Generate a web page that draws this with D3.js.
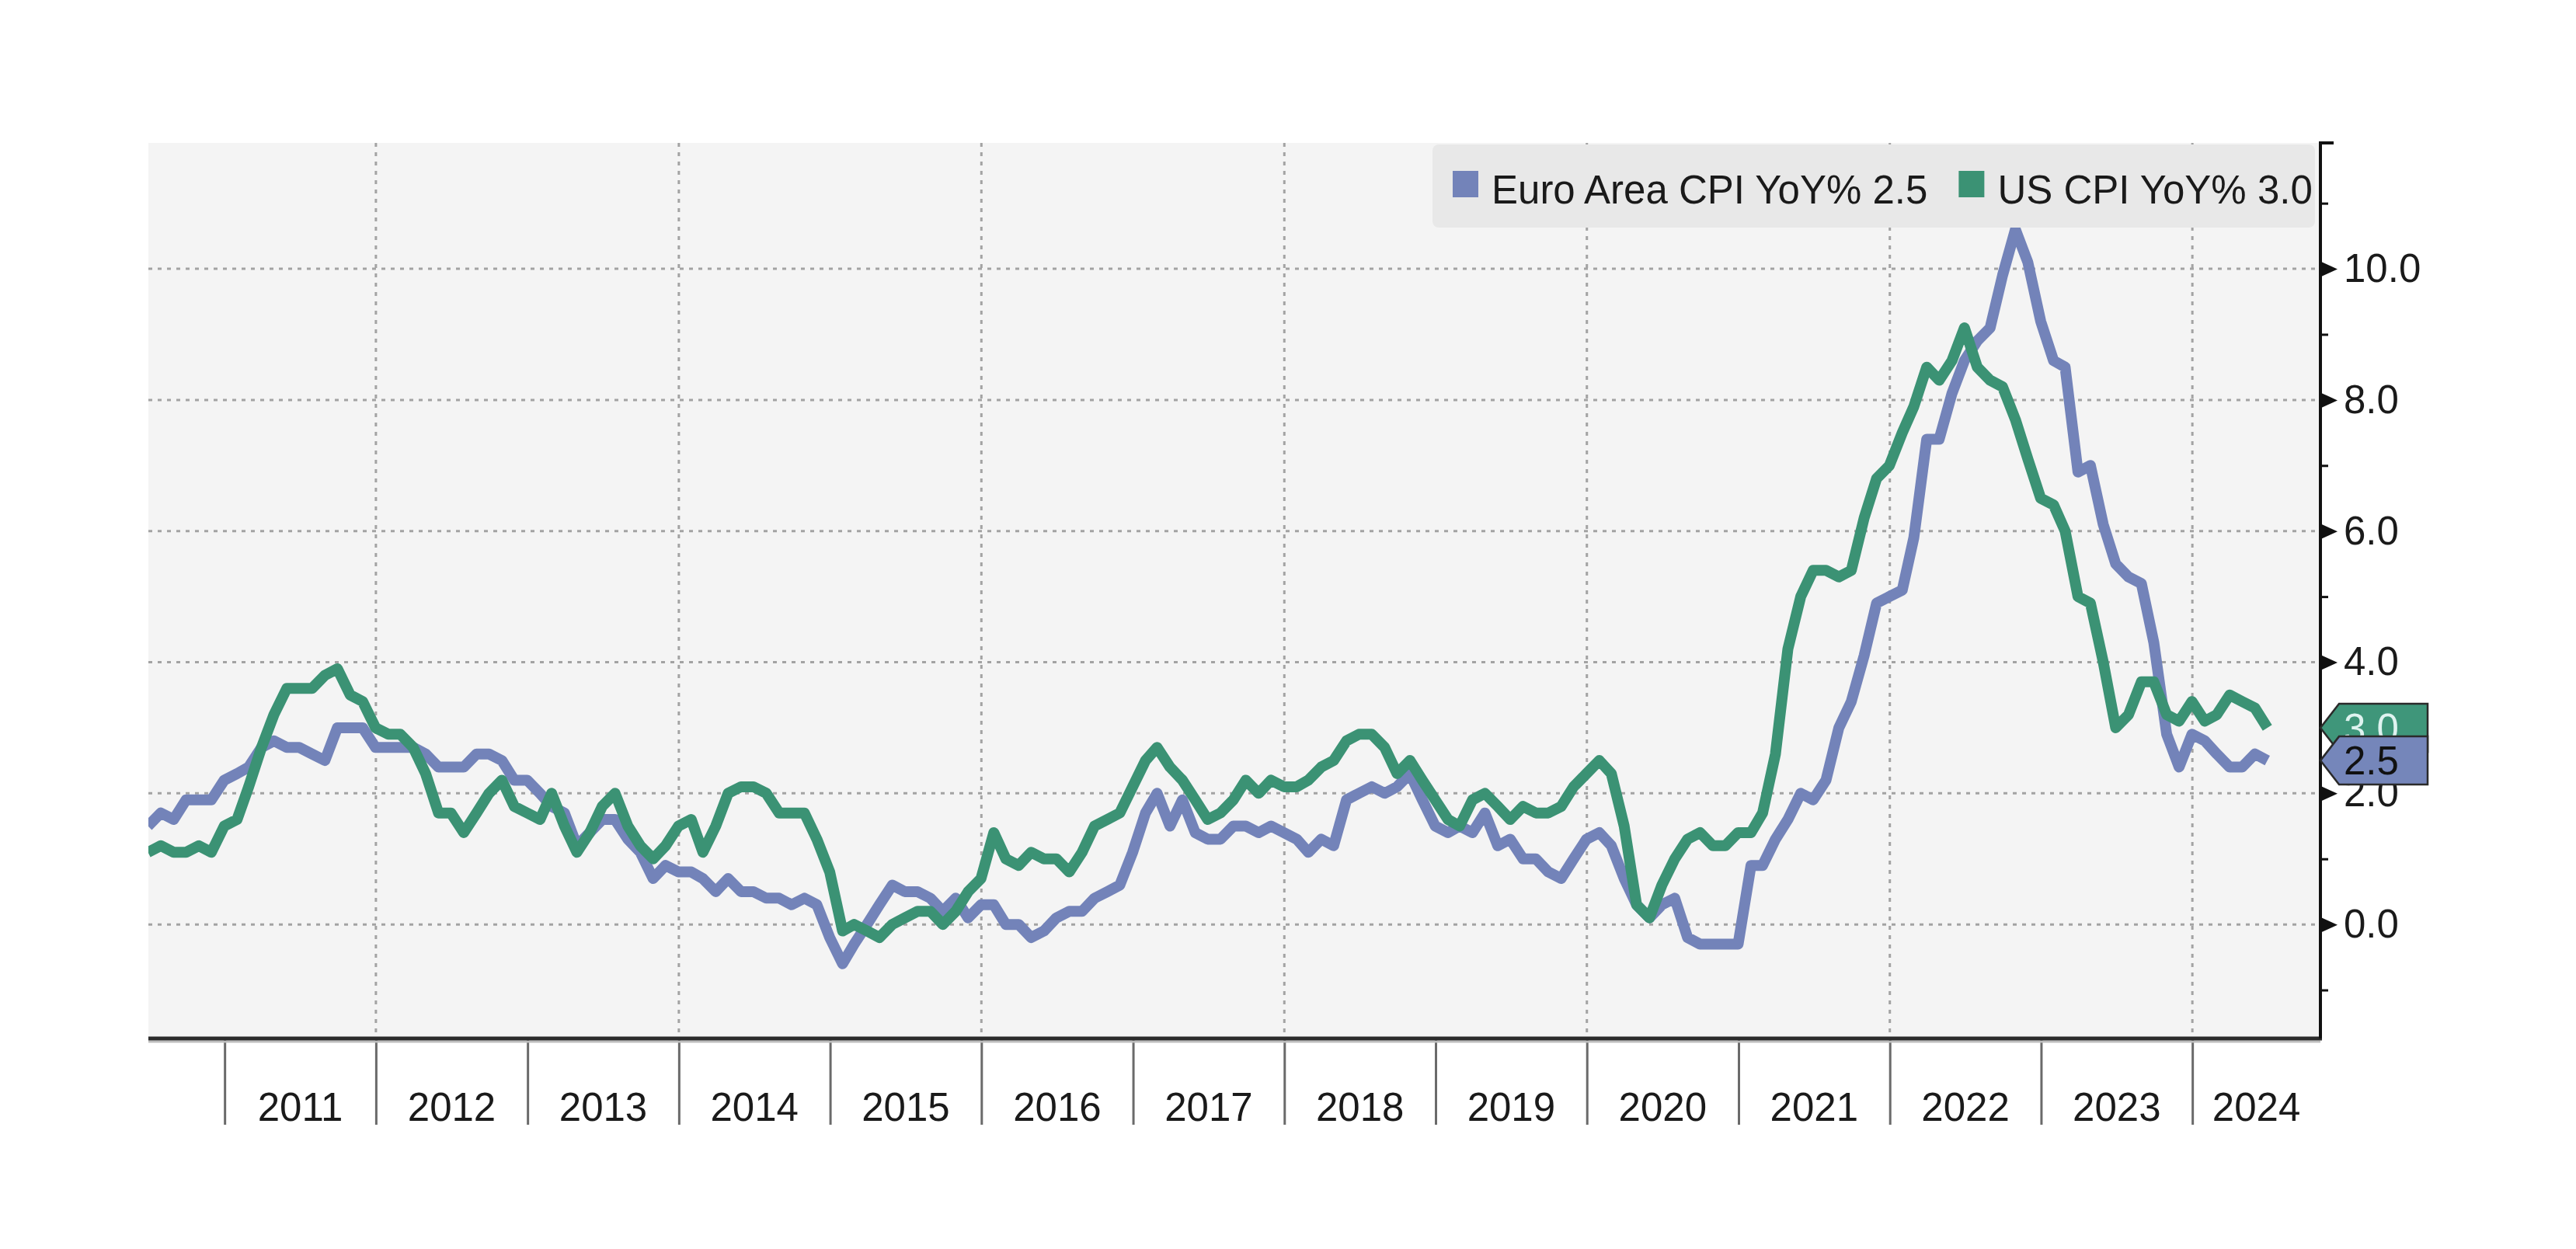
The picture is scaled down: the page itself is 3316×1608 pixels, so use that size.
<!DOCTYPE html>
<html>
<head>
<meta charset="utf-8">
<script src="https://cdn.jsdelivr.net/npm/d3@7"></script>
<style>
  body { margin: 0; background: #fff; }
  svg text { font-family: "Liberation Sans", Arial, sans-serif; }
</style>
</head>
<body>
<svg id="Chart"></svg>
<script>
// monthly YoY %, first value is June 2010, last is June 2024
let firstMonth = new Date(2010, 5, 1)
let euroCPI = [
  1.5, 1.7, 1.6, 1.9, 1.9, 1.9, 2.2,
  2.3, 2.4, 2.7, 2.8, 2.7, 2.7, 2.6, 2.5, 3.0, 3.0, 3.0, 2.7,
  2.7, 2.7, 2.7, 2.6, 2.4, 2.4, 2.4, 2.6, 2.6, 2.5, 2.2, 2.2,
  2.0, 1.8, 1.7, 1.2, 1.4, 1.6, 1.6, 1.3, 1.1, 0.7, 0.9, 0.8,
  0.8, 0.7, 0.5, 0.7, 0.5, 0.5, 0.4, 0.4, 0.3, 0.4, 0.3, -0.2,
  -0.6, -0.3, 0.0, 0.3, 0.6, 0.5, 0.5, 0.4, 0.2, 0.4, 0.1, 0.3,
  0.3, 0.0, 0.0, -0.2, -0.1, 0.1, 0.2, 0.2, 0.4, 0.5, 0.6, 1.1,
  1.7, 2.0, 1.5, 1.9, 1.4, 1.3, 1.3, 1.5, 1.5, 1.4, 1.5, 1.4,
  1.3, 1.1, 1.3, 1.2, 1.9, 2.0, 2.1, 2.0, 2.1, 2.3, 1.9, 1.5,
  1.4, 1.5, 1.4, 1.7, 1.2, 1.3, 1.0, 1.0, 0.8, 0.7, 1.0, 1.3,
  1.4, 1.2, 0.7, 0.3, 0.1, 0.3, 0.4, -0.2, -0.3, -0.3, -0.3, -0.3,
  0.9, 0.9, 1.3, 1.6, 2.0, 1.9, 2.2, 3.0, 3.4, 4.1, 4.9, 5.0,
  5.1, 5.9, 7.4, 7.4, 8.1, 8.6, 8.9, 9.1, 9.9, 10.6, 10.1, 9.2,
  8.6, 8.5, 6.9, 7.0, 6.1, 5.5, 5.3, 5.2, 4.3, 2.9, 2.4, 2.9,
  2.8, 2.6, 2.4, 2.4, 2.6, 2.5
]
let usCPI = [
  1.1, 1.2, 1.1, 1.1, 1.2, 1.1, 1.5,
  1.6, 2.1, 2.7, 3.2, 3.6, 3.6, 3.6, 3.8, 3.9, 3.5, 3.4, 3.0,
  2.9, 2.9, 2.7, 2.3, 1.7, 1.7, 1.4, 1.7, 2.0, 2.2, 1.8, 1.7,
  1.6, 2.0, 1.5, 1.1, 1.4, 1.8, 2.0, 1.5, 1.2, 1.0, 1.2, 1.5,
  1.6, 1.1, 1.5, 2.0, 2.1, 2.1, 2.0, 1.7, 1.7, 1.7, 1.3, 0.8,
  -0.1, 0.0, -0.1, -0.2, 0.0, 0.1, 0.2, 0.2, 0.0, 0.2, 0.5, 0.7,
  1.4, 1.0, 0.9, 1.1, 1.0, 1.0, 0.8, 1.1, 1.5, 1.6, 1.7, 2.1,
  2.5, 2.7, 2.4, 2.2, 1.9, 1.6, 1.7, 1.9, 2.2, 2.0, 2.2, 2.1,
  2.1, 2.2, 2.4, 2.5, 2.8, 2.9, 2.9, 2.7, 2.3, 2.5, 2.2, 1.9,
  1.6, 1.5, 1.9, 2.0, 1.8, 1.6, 1.8, 1.7, 1.7, 1.8, 2.1, 2.3,
  2.5, 2.3, 1.5, 0.3, 0.1, 0.6, 1.0, 1.3, 1.4, 1.2, 1.2, 1.4,
  1.4, 1.7, 2.6, 4.2, 5.0, 5.4, 5.4, 5.3, 5.4, 6.2, 6.8, 7.0,
  7.5, 7.9, 8.5, 8.3, 8.6, 9.1, 8.5, 8.3, 8.2, 7.7, 7.1, 6.5,
  6.4, 6.0, 5.0, 4.9, 4.0, 3.0, 3.2, 3.7, 3.7, 3.2, 3.1, 3.4,
  3.1, 3.2, 3.5, 3.4, 3.3, 3.0
]
let seriesNames = ["Euro Area CPI YoY%", "US CPI YoY%"]
let seriesColors = ["#7383b9", "#3b9274"]
let yearLabels = [2011, 2012, 2013, 2014, 2015, 2016, 2017, 2018, 2019, 2020, 2021, 2022, 2023, 2024]
let gridYears = [2012, 2014, 2016, 2018, 2020, 2022, 2024]
let yTicks = [0, 2, 4, 6, 8, 10]
let yMinorTicks = [-1, 1, 3, 5, 7, 9, 11]

function getConfig() {
  let width = 3316
  let height = 1608
  let plot = { left: 191, right: 2987, top: 184, bottom: 1337 }
  let container = d3.select("#Chart")
    .attr("width", width)
    .attr("height", height)
  return { width, height, plot, container }
}

function getScales(config) {
  let { plot } = config
  let xScale = d3.scaleTime()
    .domain([new Date(2010, 6, 1), new Date(2024, 10, 5)])
    .range([plot.left, plot.right])
  let yScale = d3.scaleLinear()
    .domain([-1.74, 11.92])
    .range([plot.bottom, plot.top])
  return { xScale, yScale }
}

// each monthly value sits on the last day of its month
function toPoints(values) {
  return values.map((v, i) => ({
    date: d3.timeDay.offset(d3.timeMonth.offset(firstMonth, i + 1), -1),
    value: v
  }))
}

function drawBackground(scales, config) {
  let { container, plot } = config
  let { xScale, yScale } = scales
  container.append("rect")
    .attr("x", plot.left).attr("y", plot.top)
    .attr("width", plot.right - plot.left)
    .attr("height", plot.bottom - plot.top)
    .attr("fill", "#f4f4f4")

  let grid = container.append("g")
  grid.selectAll(".hgrid")
    .data(yTicks)
    .enter().append("line")
    .attr("x1", plot.left).attr("x2", plot.right)
    .attr("y1", d => yScale(d)).attr("y2", d => yScale(d))
    .attr("stroke", "#a3a3a3").attr("stroke-width", 3)
    .attr("stroke-dasharray", "5,7")
  grid.selectAll(".vgrid")
    .data(gridYears)
    .enter().append("line")
    .attr("x1", d => xScale(new Date(d, 0, 1))).attr("x2", d => xScale(new Date(d, 0, 1)))
    .attr("y1", plot.top).attr("y2", plot.bottom)
    .attr("stroke", "#a3a3a3").attr("stroke-width", 3)
    .attr("stroke-dasharray", "5,7")
}

function drawLegend(config) {
  let { container, plot } = config
  let legend = container.append("g")
  legend.append("rect")
    .attr("x", 1844).attr("y", plot.top + 2)
    .attr("width", 2980 - 1844).attr("height", 107)
    .attr("rx", 8)
    .attr("fill", "#e8e8e8")

  let items = [
    { name: seriesNames[0], last: euroCPI[euroCPI.length - 1], color: seriesColors[0] },
    { name: seriesNames[1], last: usCPI[usCPI.length - 1], color: seriesColors[1] }
  ]
  let x = 1870
  items.forEach(item => {
    legend.append("rect")
      .attr("x", x).attr("y", 220)
      .attr("width", 33).attr("height", 34)
      .attr("fill", item.color)
    let label = legend.append("text")
      .attr("x", x + 50).attr("y", 262)
      .attr("font-size", 51)
      .attr("fill", "#1a1a1a")
      .text(item.name + " " + item.last.toFixed(1))
    x = x + 50 + label.node().getComputedTextLength() + 40
  })
}

function drawLines(scales, config) {
  let { container, plot } = config
  let { xScale, yScale } = scales
  container.append("clipPath").attr("id", "plotClip")
    .append("rect")
    .attr("x", plot.left).attr("y", plot.top)
    .attr("width", plot.right - plot.left)
    .attr("height", plot.bottom - plot.top)

  let line = d3.line()
    .x(d => xScale(d.date))
    .y(d => yScale(d.value))

  let body = container.append("g").attr("clip-path", "url(#plotClip)")
  // euro first, the US line sits on top of it
  let series = [toPoints(euroCPI), toPoints(usCPI)]
  body.selectAll(".series")
    .data(series)
    .enter().append("path")
    .attr("d", d => line(d))
    .attr("fill", "none")
    .attr("stroke", (d, i) => seriesColors[i])
    .attr("stroke-width", 14)
    .attr("stroke-linejoin", "round")
}

function drawAxes(scales, config) {
  let { container, plot } = config
  let { xScale, yScale } = scales

  // year separators below the plot
  let axisX = d3.axisBottom(xScale)
    .tickValues(yearLabels.map(y => new Date(y, 0, 1)))
    .tickSize(111)
    .tickFormat("")
  let gx = container.append("g")
    .attr("transform", `translate(0,${plot.bottom})`)
    .call(axisX)
  gx.select(".domain").remove()
  gx.selectAll(".tick line").attr("stroke", "#6a6a6a").attr("stroke-width", 3)

  // year labels centred in the visible part of each year
  container.append("g").selectAll("text")
    .data(yearLabels)
    .enter().append("text")
    .attr("x", d => {
      let a = Math.max(xScale(new Date(d, 0, 1)), plot.left)
      let b = Math.min(xScale(new Date(d + 1, 0, 1)), plot.right)
      return (a + b) / 2
    })
    .attr("y", 1443)
    .attr("text-anchor", "middle")
    .attr("font-size", 51)
    .attr("fill", "#1a1a1a")
    .text(d => d)

  // frame: bottom and right
  container.append("line")
    .attr("x1", plot.left).attr("x2", plot.right)
    .attr("y1", plot.bottom + 4).attr("y2", plot.bottom + 4)
    .attr("stroke", "#bdbdbd").attr("stroke-width", 3)
  container.append("line")
    .attr("x1", plot.left).attr("x2", plot.right + 2)
    .attr("y1", plot.bottom).attr("y2", plot.bottom)
    .attr("stroke", "#2b2b2b").attr("stroke-width", 5)
  container.append("path")
    .attr("d", `M${plot.right + 17},${plot.top} H${plot.right} V${plot.bottom}`)
    .attr("fill", "none")
    .attr("stroke", "#111").attr("stroke-width", 4)

  // minor ticks
  let minorAxis = d3.axisRight(yScale)
    .tickValues(yMinorTicks)
    .tickSize(10)
    .tickFormat("")
  let gm = container.append("g")
    .attr("transform", `translate(${plot.right},0)`)
    .call(minorAxis)
  gm.select(".domain").remove()
  gm.selectAll(".tick line").attr("stroke", "#111").attr("stroke-width", 3)

  // major ticks are small arrow heads
  let axisY = d3.axisRight(yScale)
    .tickValues(yTicks)
    .tickSize(0)
    .tickPadding(30)
    .tickFormat(d3.format(".1f"))
  let gy = container.append("g")
    .attr("transform", `translate(${plot.right},0)`)
    .call(axisY)
  gy.select(".domain").remove()
  gy.selectAll(".tick text")
    .attr("font-size", 51)
    .attr("font-family", "Liberation Sans, Arial, sans-serif")
    .attr("fill", "#1a1a1a")
  gy.selectAll(".tick").append("path")
    .attr("d", "M0,-10 L22,0 L0,10 Z")
    .attr("fill", "#111")
}

function drawLastValues(scales, config) {
  let { container, plot } = config
  let { yScale } = scales
  let tags = [
    { value: usCPI[usCPI.length - 1], fill: "#3f967a", text: "#dff3f0" },
    { value: euroCPI[euroCPI.length - 1], fill: "#7586ba", text: "#111" }
  ]
  let h = 62
  let right = 3125
  tags.forEach(t => {
    let cy = yScale(t.value)
    let x0 = plot.right
    container.append("path")
      .attr("d", `M${x0},${cy} L${x0 + 24},${cy - h / 2} H${right} V${cy + h / 2} H${x0 + 24} Z`)
      .attr("fill", t.fill)
      .attr("stroke", "#2a2a2a").attr("stroke-width", 2.5)
    container.append("text")
      .attr("x", 3017).attr("y", cy)
      .attr("dy", "0.36em")
      .attr("font-size", 51)
      .attr("fill", t.text)
      .text(t.value.toFixed(1))
  })
}

function drawChart() {
  let config = getConfig()
  let scales = getScales(config)
  drawBackground(scales, config)
  drawLines(scales, config)
  drawLegend(config)
  drawAxes(scales, config)
  drawLastValues(scales, config)
}

drawChart()
</script>
</body>
</html>
